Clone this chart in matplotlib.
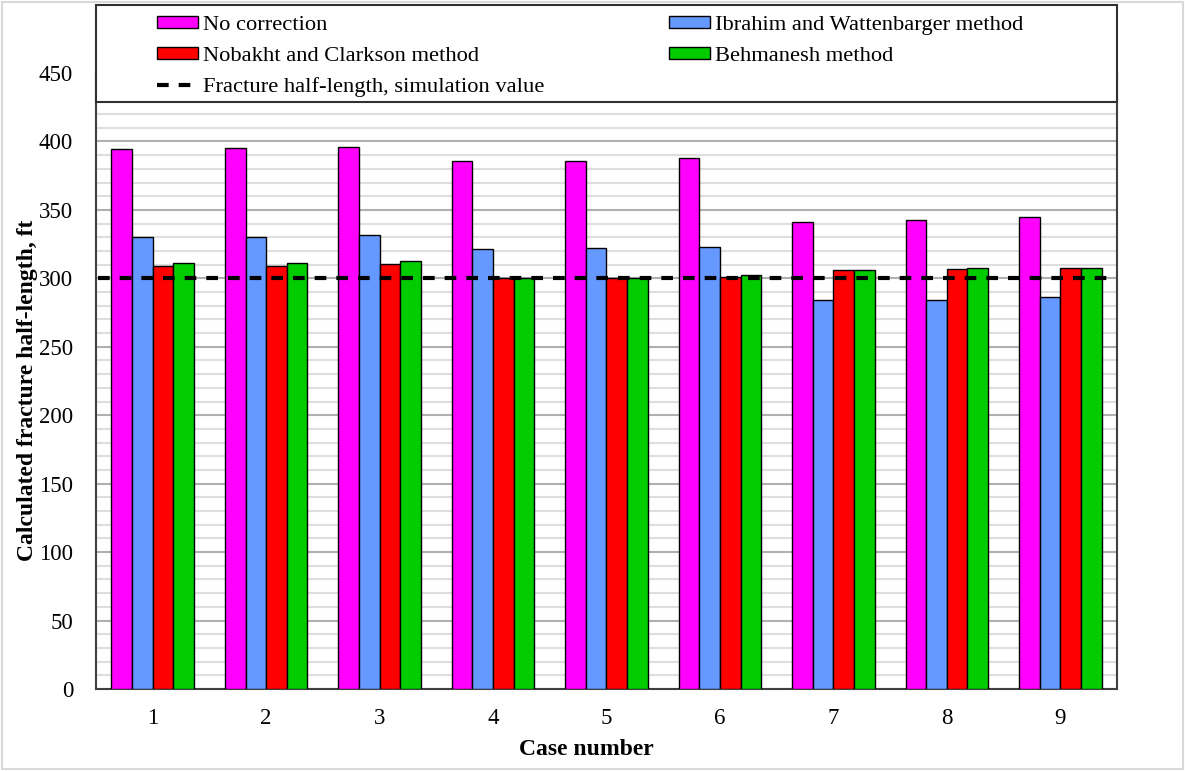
import numpy as np
import matplotlib.pyplot as plt
from matplotlib.patches import Rectangle

plt.rcParams['font.family'] = ['Liberation Serif', 'DejaVu Serif']

cases = [1, 2, 3, 4, 5, 6, 7, 8, 9]
no_correction = [394.2, 395.0, 396.2, 385.5, 386.0, 388.2, 341.1, 342.6, 344.5]
ibrahim = [329.9, 330.0, 331.6, 321.4, 321.9, 323.0, 283.9, 284.4, 286.3]
nobakht = [309.2, 309.0, 310.2, 300.2, 300.5, 301.0, 306.0, 306.8, 307.7]
behmanesh = [311.1, 311.0, 312.4, 300.2, 300.5, 302.4, 306.0, 307.3, 307.7]
sim_value = 300

series = [
    ("No correction", no_correction, "#FF00FF"),
    ("Ibrahim and Wattenbarger method", ibrahim, "#6699FF"),
    ("Nobakht and Clarkson method", nobakht, "#FF0000"),
    ("Behmanesh method", behmanesh, "#00CC00"),
]

fig = plt.figure(figsize=(11.85, 7.71), dpi=100)
ax = fig.add_axes([0.081, 0.1064, 0.8616, 0.7989])

x = np.array(cases, dtype=float)
w = 0.182
handles = {}
for i, (name, vals, col) in enumerate(series):
    bars = ax.bar(x + (i - 1.5) * w, vals, w, color=col, edgecolor="black",
                  linewidth=1.0, zorder=3, label=name)
    handles[name] = bars

sim_line, = ax.plot([0.52, 9.42], [sim_value, sim_value], color="black", lw=3,
                    dashes=(2.8, 2.4), zorder=4,
                    label="Fracture half-length, simulation value")

ax.set_xlim(0.5, 9.5)
ax.set_ylim(0, 450)
ax.set_xticks(cases)
ax.set_yticks(np.arange(0, 451, 50))
ax.set_yticks(np.arange(0, 451, 10), minor=True)
ax.tick_params(axis="both", which="both", length=0, labelsize=16.5, colors="black")
ax.tick_params(axis="x", pad=14)
ax.tick_params(axis="y", pad=16.5)
ax.grid(axis="y", which="major", color="#b0b0b0", lw=1.5, zorder=0)
ax.grid(axis="y", which="minor", color="#dedede", lw=1.5, zorder=0)
ax.set_axisbelow(True)
for s in ax.spines.values():
    s.set_color("#404040")
    s.set_linewidth(1.5)

ax.set_xlabel("Case number", fontsize=17, fontweight="bold")
ax.xaxis.set_label_coords(0.48, -0.082)
ax.set_ylabel("Calculated fracture half-length, ft", fontsize=17,
              fontweight="bold")
ax.yaxis.set_label_coords(-0.0565, 0.485)

# legend box sitting over the top of the plot area
fig.patches.append(Rectangle((0.081, 0.8677), 0.8616, 0.1258,
                             transform=fig.transFigure, facecolor="white",
                             edgecolor="#303030", lw=1.5, zorder=5))
# light outer border of the chart area
fig.patches.append(Rectangle((0.002, 0.003), 0.996, 0.994,
                             transform=fig.transFigure, facecolor="none",
                             edgecolor="#d9d9d9", lw=1.5, zorder=5))

leg_handles = [handles["No correction"], handles["Nobakht and Clarkson method"],
               sim_line, handles["Ibrahim and Wattenbarger method"],
               handles["Behmanesh method"]]
leg_labels = ["No correction", "Nobakht and Clarkson method",
              "Fracture half-length, simulation value",
              "Ibrahim and Wattenbarger method", "Behmanesh method"]
leg = fig.legend(leg_handles, leg_labels, ncol=2, frameon=False,
                 loc="upper left", bbox_to_anchor=(157 / 1185, 1 - 16 / 771),
                 borderpad=0, borderaxespad=0,
                 fontsize=16.2, handlelength=1.82, handleheight=0.45,
                 handletextpad=0.22, columnspacing=5.55, labelspacing=0.52)
leg.set_zorder(6)

fig.savefig("out.png", dpi=100)
